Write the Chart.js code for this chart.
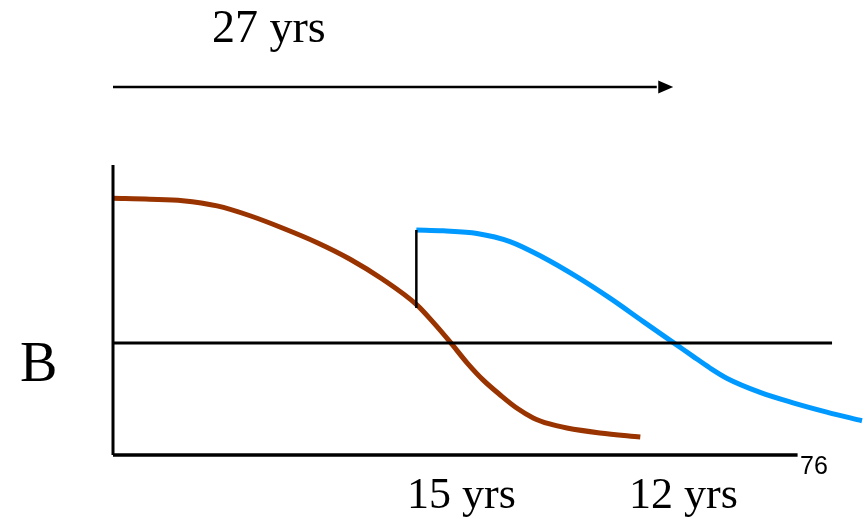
<!DOCTYPE html>
<html>
<head>
<meta charset="utf-8">
<script src="https://cdn.jsdelivr.net/npm/chart.js@4"></script>
<style>
  body { margin: 0; background: #fff; }
</style>
</head>
<body>
<canvas id="grafico" width="867" height="519"></canvas>
<script>
// curva marron (primer periodo)
var marronX = [0, 4.9, 9.3, 13.9, 18.3, 22.7, 27.2, 31.6, 36.0, 40.6, 42.7, 45.0, 47.3, 49.4, 51.7, 53.9, 56.1, 58.3, 60.6, 65.0, 70.4];
var marronY = [88.5, 88.2, 87.7, 85.9, 82.5, 78.2, 73.3, 67.6, 60.6, 51.7, 45.9, 39.0, 31.7, 25.9, 20.7, 16.2, 12.8, 10.7, 9.3, 7.6, 6.2];

// curva azul (segundo periodo)
var azulX = [40.5, 44.1, 48.6, 53.0, 57.4, 61.9, 66.4, 70.8, 75.3, 77.4, 79.7, 82.0, 86.4, 90.8, 95.3, 100];
var azulY = [77.6, 77.3, 76.4, 73.6, 68.2, 61.5, 54.0, 46.0, 37.9, 34.1, 30.0, 26.4, 21.6, 18.0, 14.8, 11.8];

// lineas auxiliares
var umbral = 38.6;          // linea horizontal
var finUmbral = 96;
var finEjeX = 91.4;
var saltoX = 40.5;          // salto vertical
var saltoY = [50.7, 77.6];
var flechaY = 126.9;        // flecha de 27 anios
var flechaX = [0, 72.6];
var puntaX = 74.8;

// textos
var textoArriba = '27 yrs';
var textoEje = 'B';
var etiquetas = ['15 yrs', '12 yrs'];
var numPagina = '76';

function puntos(xs, ys) {
    var res = [];
    for (let i = 0; i < xs.length; i++) {
        res.push({x: xs[i], y: ys[i]});
    }
    return res;
}

function linea(datos, color, ancho, suave) {
    return {
        data: datos,
        borderColor: color,
        borderWidth: ancho,
        pointRadius: 0,
        cubicInterpolationMode: suave ? 'monotone' : 'default',
        clip: false
    };
}

// Punta de la flecha y textos dibujados encima
var extras = {
    id: 'extras',
    afterDraw: function(chart) {
        var ctx = chart.ctx;
        var sx = chart.scales.x, sy = chart.scales.y;
        ctx.save();
        ctx.fillStyle = '#000';

        var px = sx.getPixelForValue(puntaX);
        var py = sy.getPixelForValue(flechaY);
        ctx.beginPath();
        ctx.moveTo(px, py);
        ctx.lineTo(px - 15, py - 6.5);
        ctx.lineTo(px - 15, py + 6.5);
        ctx.closePath();
        ctx.fill();

        ctx.textBaseline = 'alphabetic';
        ctx.textAlign = 'left';
        ctx.font = '46px "Liberation Serif", "Times New Roman", serif';
        ctx.fillText(textoArriba, 212, 42);
        ctx.font = '44px "Liberation Serif", "Times New Roman", serif';
        ctx.fillText(etiquetas[0], 407, 508);
        ctx.fillText(etiquetas[1], 629, 508);
        ctx.font = '56px "Liberation Serif", "Times New Roman", serif';
        ctx.fillText(textoEje, 20, 381);
        ctx.font = '25px "Liberation Sans", Arial, sans-serif';
        ctx.fillText(numPagina, 800, 474);
        ctx.restore();
    }
};

var chart = new Chart(document.getElementById('grafico'), {
    type: 'line',
    data: {
        datasets: [
            linea(puntos([0, 0], [0, 100]), '#000', 3),
            linea(puntos([0, finEjeX], [0, 0]), '#000', 3.5),
            linea(puntos([0, finUmbral], [umbral, umbral]), '#000', 3),
            linea(puntos([saltoX, saltoX], saltoY), '#000', 2.5),
            linea(puntos(marronX, marronY), '#993300', 5, true),
            linea(puntos(azulX, azulY), '#0099FF', 5, true),
            linea(puntos(flechaX, [flechaY, flechaY]), '#000', 2.5)
        ]
    },
    options: {
        responsive: false,
        animation: false,
        layout: {
            padding: {left: 113, right: 5, top: 165, bottom: 64}
        },
        scales: {
            x: {type: 'linear', min: 0, max: 100, display: false},
            y: {min: 0, max: 100, display: false}
        },
        plugins: {
            legend: {display: false},
            tooltip: {enabled: false}
        }
    },
    plugins: [extras]
});
</script>
</body>
</html>
